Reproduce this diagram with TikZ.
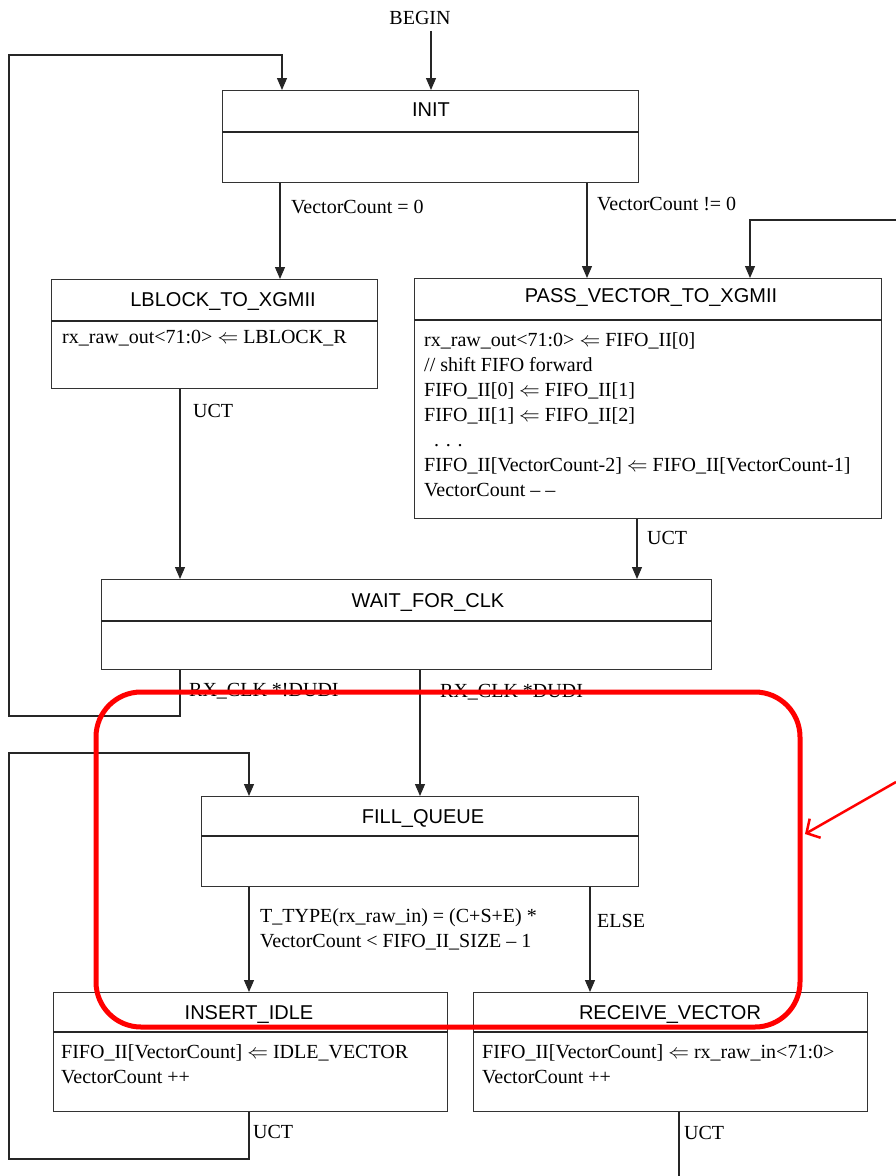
\documentclass[tikz,border=0pt]{standalone}
\usepackage{fontspec}
\setmainfont{Liberation Serif}
\setsansfont{Liberation Sans}
\usetikzlibrary{arrows.meta}
\begin{document}
\begin{tikzpicture}[x=1pt,y=-1pt,
  box/.style={draw=black!80, line width=1.2pt, inner sep=0pt, anchor=north west},
  ttl/.style={font=\sffamily\fontsize{20}{24}\selectfont, inner sep=0pt},
  txt/.style={font=\fontsize{20}{25}\selectfont, inner sep=0pt, anchor=west, align=left},
  ln/.style={line width=1.1pt, draw=black!85},
  arr/.style={ln, -{Triangle[length=12pt,width=10pt]}},
  hl/.style={draw=red, line width=5pt},
  hlarr/.style={draw=red, line width=2.5pt, -{Straight Barb[length=10pt,width=22pt,line width=2.5pt]}}]
\useasboundingbox (0,0) rectangle (896,1176);
\fill[white] (0,0) rectangle (896,1176);

% columns / corner coordinates
\coordinate (cBegin) at (431,0);
\coordinate (cA) at (280,0);
\coordinate (cB) at (587,0);
\coordinate (cU1) at (180,0);
\coordinate (cU2) at (637,0);
\coordinate (cW) at (420,0);
\coordinate (cF1) at (249,0);
\coordinate (cF2) at (590,0);
\coordinate (L1a) at (180,716);
\coordinate (L1b) at (9,716);
\coordinate (L1c) at (9,55);
\coordinate (L1d) at (282,55);
\coordinate (R1) at (896,220);
\coordinate (R2) at (750,220);
\coordinate (L2a) at (249,1159);
\coordinate (L2b) at (9,1159);
\coordinate (L2c) at (9,753);
\coordinate (L2d) at (249,753);
\coordinate (B1) at (679,1176);

% BEGIN
\node[txt, anchor=center] (begin) at (420,18) {BEGIN};

% INIT
\node[box, minimum width=416pt, minimum height=92pt] (init) at (222,90) {};
\draw[ln] ([yshift=-42pt]init.north west) -- ([yshift=-42pt]init.north east);
\node[ttl] (initT) at (431,110) {INIT};

% LBLOCK_TO_XGMII
\node[box, minimum width=326pt, minimum height=109pt] (lblock) at (51,279) {};
\draw[ln] ([yshift=-42pt]lblock.north west) -- ([yshift=-42pt]lblock.north east);
\node[ttl] (lblockT) at (223,301) {LBLOCK\_TO\_XGMII};
\node[txt] (lblockB) at (62,338) {rx\_raw\_out<71:0> $\Leftarrow$ LBLOCK\_R};

% PASS_VECTOR_TO_XGMII
\node[box, minimum width=467pt, minimum height=240pt] (pass) at (414,278) {};
\draw[ln] ([yshift=-42pt]pass.north west) -- ([yshift=-42pt]pass.north east);
\node[ttl] (passT) at (651,297) {PASS\_VECTOR\_TO\_XGMII};
\node[txt] (passB) at (424,415) {rx\_raw\_out<71:0> $\Leftarrow$ FIFO\_II[0]\\
// shift FIFO forward\\
FIFO\_II[0] $\Leftarrow$ FIFO\_II[1]\\
FIFO\_II[1] $\Leftarrow$ FIFO\_II[2]\\
\hspace*{10pt}. . .\\
FIFO\_II[VectorCount-2] $\Leftarrow$ FIFO\_II[VectorCount-1]\\
VectorCount -- --};

% WAIT_FOR_CLK
\node[box, minimum width=610pt, minimum height=90pt] (wait) at (101,579) {};
\draw[ln] ([yshift=-42pt]wait.north west) -- ([yshift=-42pt]wait.north east);
\node[ttl] (waitT) at (428,602) {WAIT\_FOR\_CLK};

% FILL_QUEUE
\node[box, minimum width=437pt, minimum height=90pt] (fill) at (201,796) {};
\draw[ln] ([yshift=-40pt]fill.north west) -- ([yshift=-40pt]fill.north east);
\node[ttl] (fillT) at (423,818) {FILL\_QUEUE};

% INSERT_IDLE
\node[box, minimum width=394pt, minimum height=119pt] (insert) at (53,992) {};
\draw[ln] ([yshift=-40pt]insert.north west) -- ([yshift=-40pt]insert.north east);
\node[ttl] (insertT) at (249,1014) {INSERT\_IDLE};
\node[txt] (insertB) at (61,1064) {FIFO\_II[VectorCount] $\Leftarrow$ IDLE\_VECTOR\\
VectorCount ++};

% RECEIVE_VECTOR
\node[box, minimum width=394pt, minimum height=119pt] (receive) at (473,992) {};
\draw[ln] ([yshift=-40pt]receive.north west) -- ([yshift=-40pt]receive.north east);
\node[ttl] (receiveT) at (670,1014) {RECEIVE\_VECTOR};
\node[txt] (receiveB) at (482,1064) {FIFO\_II[VectorCount] $\Leftarrow$ rx\_raw\_in<71:0>\\
VectorCount ++};

% connectors
\draw[arr] ([yshift=-6pt]begin.south -| cBegin) -- (init.north -| cBegin);
\draw[arr] (wait.south -| cU1) -- (L1a) -- (L1b) -- (L1c) -- (L1d) -- (init.north -| L1d);
\draw[arr] (init.south -| cA) -- (lblock.north -| cA);
\draw[arr] (init.south -| cB) -- (pass.north -| cB);
\draw[arr] (R1) -- (R2) -- (pass.north -| R2);
\draw[arr] (lblock.south -| cU1) -- (wait.north -| cU1);
\draw[arr] (pass.south -| cU2) -- (wait.north -| cU2);
\draw[arr] (wait.south -| cW) -- (fill.north -| cW);
\draw[arr] (fill.south -| cF1) -- (insert.north -| cF1);
\draw[arr] (fill.south -| cF2) -- (receive.north -| cF2);
\draw[arr] (insert.south -| L2a) -- (L2a) -- (L2b) -- (L2c) -- (L2d) -- (fill.north -| L2d);
\draw[ln] (receive.south -| B1) -- (B1);

% connector labels
\node[txt] (l1) at (291,207) {VectorCount = 0};
\node[txt] (l2) at (597,204) {VectorCount != 0};
\node[txt] (l3) at (193,411) {UCT};
\node[txt] (l4) at (647,538) {UCT};
\node[txt] (l5) at (189,691) {RX\_CLK *!DUDI};
\node[txt] (l6) at (440,692) {RX\_CLK *DUDI};
\node[txt] (l7) at (260,929) {T\_TYPE(rx\_raw\_in) = (C+S+E) *\\
VectorCount < FIFO\_II\_SIZE -- 1};
\node[txt] (l8) at (597,921) {ELSE};
\node[txt] (l9) at (253,1132) {UCT};
\node[txt] (l10) at (684,1133) {UCT};

% red highlight
\draw[hl, rounded corners=45pt] (96,692) rectangle (800,1027);
\draw[hlarr] (896,782) -- (805,834);
\end{tikzpicture}
\end{document}
